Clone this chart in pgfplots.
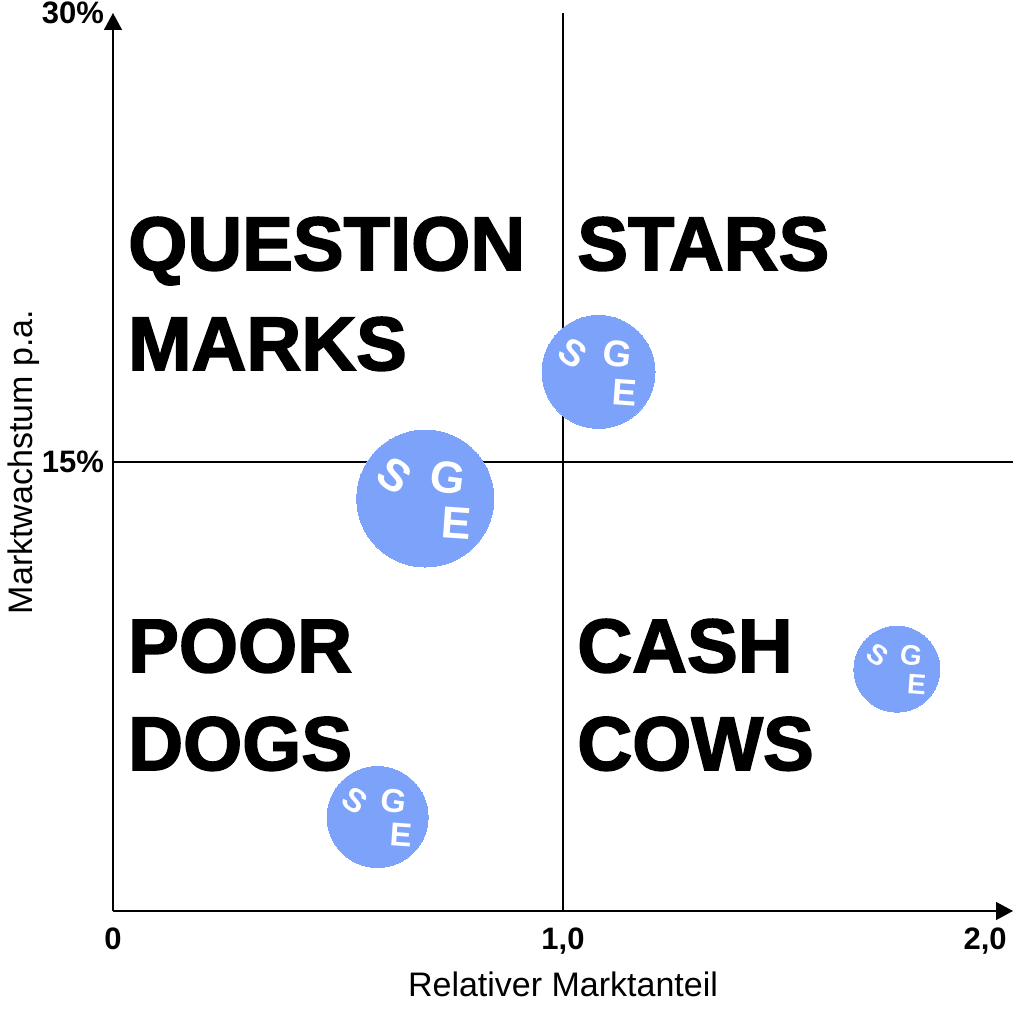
\documentclass[border=0pt]{standalone}
\usepackage{fontspec}
\setmainfont{Liberation Sans}
\newfontfamily\heavy{Liberation Sans}[BoldFeatures={FakeBold=2.2}]
\usepackage{pgfplots}
\pgfplotsset{compat=1.18}
\usetikzlibrary{arrows.meta}
\definecolor{bub}{RGB}{125,162,250}
% SGE lettering: x, y, radius (pt), font size (pt)
\newcommand\sge[4]{%
  \node[xshift=-0.45*#3pt,yshift=0.33*#3pt,text=white,font=\fontsize{#4}{#4}\selectfont\bfseries,
        rotate=-35,inner sep=0] at (axis cs:#1,#2) {S};
  \node[xshift=0.33*#3pt,yshift=0.31*#3pt,text=white,font=\fontsize{#4}{#4}\selectfont\bfseries,
        rotate=-8,inner sep=0] at (axis cs:#1,#2) {G};
  \node[xshift=0.46*#3pt,yshift=-0.36*#3pt,text=white,font=\fontsize{#4}{#4}\selectfont\bfseries,
        rotate=-4,inner sep=0] at (axis cs:#1,#2) {E};
}
\begin{document}
\begin{tikzpicture}
\begin{axis}[
  name=ax,
  set layers,
  scale only axis,
  width=450pt, height=449pt,
  xmin=0, xmax=2, ymin=0, ymax=30,
  axis lines=left,
  axis line style={line width=0.7pt},
  x axis line style={-{Triangle[length=8.5pt,width=9pt]}},
  y axis line style={-{Triangle[length=8.5pt,width=9pt]}},
  xtick={0,1,1.938},
  xticklabels={0,{1,0},{2,0}},
  ytick={15,30},
  yticklabels={15\%,30\%},
  major tick length=0pt,
  /pgf/number format/assume math mode=true,
  ticklabel style={font=\fontsize{15.5}{15.5}\selectfont\bfseries},
  xticklabel style={yshift=-5pt},
  yticklabel style={xshift=-1pt},
  xlabel={Relativer Marktanteil},
  ylabel={Marktwachstum p.a.},
  label style={font=\fontsize{17}{17}\selectfont},
  xlabel style={yshift=-2pt},
  ylabel style={at={(axis description cs:-0.081,0.5)}, anchor=south, inner sep=0pt},
  clip=false,
]
\draw[line width=0.6pt] (axis cs:1,0) -- (axis cs:1,30);
\draw[line width=0.6pt] (axis cs:0,15) -- (axis cs:2,15);

\node[anchor=base west,inner sep=0,font=\heavy\bfseries\fontsize{38}{38}\selectfont] at (axis cs:0.033,21.41) {QUESTION};
\node[anchor=base west,inner sep=0,font=\heavy\bfseries\fontsize{38}{38}\selectfont] at (axis cs:0.033,18.07) {MARKS};
\node[anchor=base west,inner sep=0,font=\heavy\bfseries\fontsize{38}{38}\selectfont] at (axis cs:1.031,21.41) {STARS};
\node[anchor=base west,inner sep=0,font=\heavy\bfseries\fontsize{38}{38}\selectfont] at (axis cs:0.033,7.98) {POOR};
\node[anchor=base west,inner sep=0,font=\heavy\bfseries\fontsize{38}{38}\selectfont] at (axis cs:0.033,4.71) {DOGS};
\node[anchor=base west,inner sep=0,font=\heavy\bfseries\fontsize{38}{38}\selectfont] at (axis cs:1.031,7.98) {CASH};
\node[anchor=base west,inner sep=0,font=\heavy\bfseries\fontsize{38}{38}\selectfont] at (axis cs:1.031,4.71) {COWS};

\addplot[bub, only marks, mark=*, mark size=28.25pt, mark options={draw=bub, fill=bub, line width=0pt}] coordinates {(1.079,18.01)};
\addplot[bub, only marks, mark=*, mark size=34.25pt, mark options={draw=bub, fill=bub, line width=0pt}] coordinates {(0.694,13.78)};
\addplot[bub, only marks, mark=*, mark size=25.25pt, mark options={draw=bub, fill=bub, line width=0pt}] coordinates {(0.588,3.14)};
\addplot[bub, only marks, mark=*, mark size=21.5pt,  mark options={draw=bub, fill=bub, line width=0pt}] coordinates {(1.742,8.08)};

\begin{pgfonlayer}{axis foreground}
\sge{1.079}{18.01}{28.25}{18.5}
\sge{0.694}{13.78}{34.25}{22.4}
\sge{0.588}{3.14}{25.25}{16.5}
\sge{1.742}{8.08}{21.5}{14.1}
\end{pgfonlayer}
\end{axis}
\pgfresetboundingbox
\path[use as bounding box] ([shift={(-56.5pt,-50.5pt)}]ax.south west) rectangle ++(512pt,506pt);
\end{tikzpicture}
\end{document}
